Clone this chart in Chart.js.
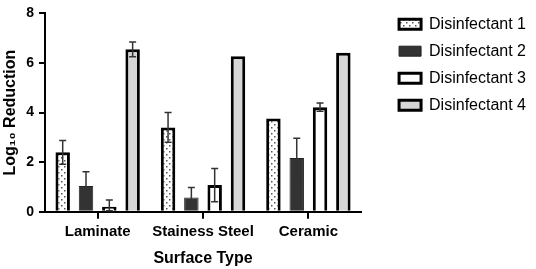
<!DOCTYPE html>
<html>
<head>
<meta charset="utf-8">
<script src="https://cdn.jsdelivr.net/npm/chart.js@4"></script>
<style>
  html, body { margin: 0; padding: 0; background: #fff; }
  #wrap { width: 536px; height: 269px; }
</style>
</head>
<body>
<div id="wrap"><canvas id="barChart"></canvas></div>
<script>
const surfaces = ["Laminate", "Stainess Steel", "Ceramic"];
const seriesNames = ["Disinfectant 1", "Disinfectant 2", "Disinfectant 3", "Disinfectant 4"];

// mean log10 reduction per surface
const disinfectant1 = [2.4, 3.4, 3.76];
const disinfectant2 = [1.04, 0.58, 2.17];
const disinfectant3 = [0.2, 1.08, 4.22];
const disinfectant4 = [6.55, 6.27, 6.41];

// error bar half-lengths (0 = none shown)
const err1 = [0.48, 0.6, 0];
const err2 = [0.57, 0.4, 0.8];
const err3 = [0.28, 0.67, 0.17];
const err4 = [0.3, 0, 0];

const yTicks = [0, 2, 4, 6, 8];

const FONT = "'Liberation Sans', Arial, 'DejaVu Sans', sans-serif";

function dotPattern() {
    const c = document.createElement("canvas");
    c.width = 6;
    c.height = 6;
    const g = c.getContext("2d");
    g.fillStyle = "#ffffff";
    g.fillRect(0, 0, 6, 6);
    g.fillStyle = "#555555";
    g.fillRect(1, 1, 1.5, 1.5);
    g.fillRect(4, 4, 1.5, 1.5);
    return g.createPattern(c, "repeat");
}

const errorBars = {
    id: "errorBars",
    afterDatasetsDraw(chart) {
        const ctx = chart.ctx;
        const y = chart.scales.y;
        const area = chart.chartArea;
        ctx.save();
        ctx.strokeStyle = "#333333";
        ctx.lineWidth = 1.5;
        chart.data.datasets.forEach((ds, i) => {
            const meta = chart.getDatasetMeta(i);
            meta.data.forEach((bar, j) => {
                const e = ds.errors[j];
                if (!e) return;
                const v = ds.data[j];
                const top = y.getPixelForValue(v + e);
                const bot = Math.min(y.getPixelForValue(v - e), area.bottom - 1);
                ctx.beginPath();
                ctx.moveTo(bar.x, top);
                ctx.lineTo(bar.x, bot);
                ctx.moveTo(bar.x - 3.5, top);
                ctx.lineTo(bar.x + 3.5, top);
                ctx.moveTo(bar.x - 3.5, bot);
                ctx.lineTo(bar.x + 3.5, bot);
                ctx.stroke();
            });
        });
        ctx.restore();
    }
};

const ctx = document.getElementById("barChart");

new Chart(ctx, {
    type: "bar",
    data: {
        labels: surfaces,
        datasets: [
            {
                label: seriesNames[0],
                data: disinfectant1,
                errors: err1,
                backgroundColor: dotPattern(),
                borderColor: "#000000",
                borderWidth: 3
            },
            {
                label: seriesNames[1],
                data: disinfectant2,
                errors: err2,
                backgroundColor: "#333333",
                borderColor: "#222222",
                borderWidth: 1
            },
            {
                label: seriesNames[2],
                data: disinfectant3,
                errors: err3,
                backgroundColor: "#ffffff",
                borderColor: "#000000",
                borderWidth: 3
            },
            {
                label: seriesNames[3],
                data: disinfectant4,
                errors: err4,
                backgroundColor: "#d6d6d6",
                borderColor: "#000000",
                borderWidth: 3
            }
        ]
    },
    options: {
        responsive: true,
        maintainAspectRatio: false,
        animation: false,
        layout: {
            padding: { top: 1, right: 0, bottom: 0, left: 0 }
        },
        datasets: {
            bar: {
                categoryPercentage: 0.885,
                barPercentage: 0.62
            }
        },
        scales: {
            x: {
                grid: {
                    display: true,
                    drawOnChartArea: false,
                    offset: false,
                    color: "#000000",
                    lineWidth: 2,
                    tickLength: 7
                },
                border: { color: "#000000", width: 2 },
                ticks: {
                    color: "#000000",
                    padding: 4,
                    maxRotation: 0,
                    minRotation: 0,
                    autoSkip: false,
                    font: { family: FONT, size: 15, weight: "bold" }
                },
                title: {
                    display: true,
                    text: "Surface Type",
                    color: "#000000",
                    padding: { top: 4, bottom: 1 },
                    font: { family: FONT, size: 16, weight: "bold" }
                }
            },
            y: {
                min: 0,
                max: 8,
                afterBuildTicks: (scale) => {
                    scale.ticks = yTicks.map(v => ({ value: v }));
                },
                grid: {
                    display: true,
                    drawOnChartArea: false,
                    color: "#000000",
                    lineWidth: 2,
                    tickLength: 6
                },
                border: { color: "#000000", width: 2 },
                ticks: {
                    color: "#000000",
                    padding: 5,
                    font: { family: FONT, size: 14, weight: "bold" }
                },
                title: {
                    display: true,
                    text: "Log₁₀ Reduction",
                    color: "#000000",
                    padding: { top: 1, bottom: 1 },
                    font: { family: FONT, size: 16, weight: "bold" }
                }
            },
            gap: {
                type: "linear",
                position: "right",
                display: true,
                grid: { display: false },
                border: { display: false },
                ticks: { display: false },
                afterFit: (scale) => {
                    scale.width = 27;
                }
            }
        },
        plugins: {
            legend: {
                display: true,
                position: "right",
                align: "start",
                maxWidth: 200,
                title: {
                    display: true,
                    text: "",
                    padding: { top: 0, bottom: 3 },
                    font: { size: 1 }
                },
                labels: {
                    color: "#000000",
                    boxWidth: 22,
                    boxHeight: 10,
                    padding: 11,
                    font: { family: FONT, size: 16 }
                }
            },
            tooltip: { enabled: false }
        }
    },
    plugins: [errorBars]
});
</script>
</body>
</html>
